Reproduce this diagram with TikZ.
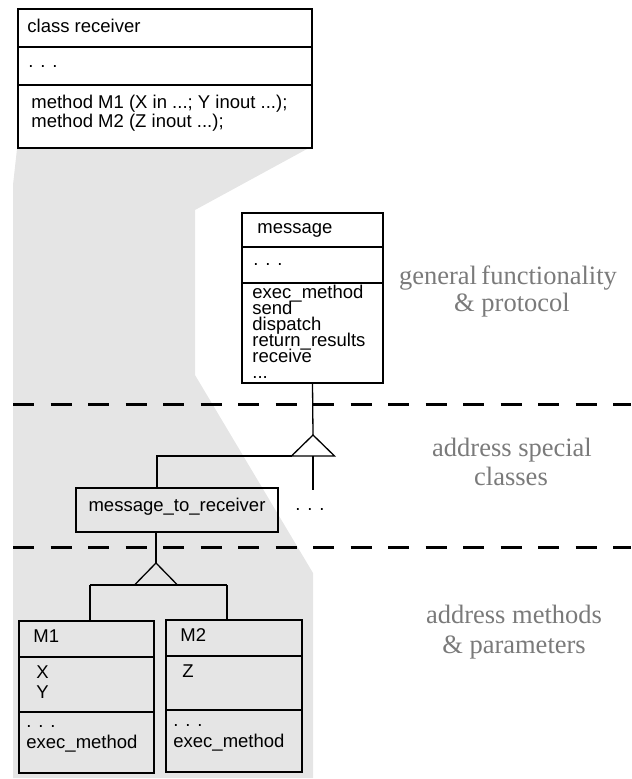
\documentclass[tikz,border=0pt]{standalone}
\usepackage{fontspec}
\setmainfont{Liberation Serif}
\newfontfamily\boxfont{Liberation Sans}
\definecolor{bgray}{HTML}{E5E5E5}
\definecolor{tgray}{HTML}{7A7A7A}
\begin{document}
\begin{tikzpicture}[x=0.5pt,y=-0.5pt,
  box/.style={draw, line width=0.65pt, inner sep=0pt, outer sep=0pt},
  txt/.style={font=\boxfont\fontsize{9.25pt}{11pt}\selectfont, anchor=base west, inner sep=0pt},
  gtxt/.style={font=\fontsize{13.25pt}{15pt}\selectfont, text=tgray, anchor=base, inner sep=0pt},
  conn/.style={line width=0.65pt},
  sepline/.style={line width=1.5pt, dash pattern=on 10.5pt off 8.25pt}]
\useasboundingbox (0,0) rectangle (631,779);
% grey background band
\fill[bgray] (17,149) -- (307,149) -- (195,210) -- (195,375) -- (313,573) -- (313,778) -- (13,778) -- (13,185) -- cycle;

% separators
\draw[sepline] (13,404) -- (631,404);
\draw[sepline] (13,547) -- (631,547);

% class receiver
\node[box, minimum width=147pt, minimum height=69.5pt] (cr) at (165,78.5) {};
\draw[conn] (18,47) -- (312,47);
\draw[conn] (18,85) -- (312,85);
\node[txt] (cr1) at (27,33) {class receiver};
\node[txt] (cr2) at (28,68) {. . .};
\node[txt] (cr3) at (31,109) {method M1 (X in ...; Y inout ...);};
\node[txt] (cr4) at (31,128) {method M2 (Z inout ...);};

% message
\node[box, minimum width=70.5pt, minimum height=85pt] (msg) at (312.5,298) {};
\draw[conn] (242,247) -- (383,247);
\draw[conn] (242,283) -- (383,283);
\node[txt] (ms1) at (257,234) {message};
\node[txt] (ms2) at (253,266) {. . .};
\node[txt] (ms3) at (252,299) {exec\_method};
\node[txt] (ms4) at (252,315) {send};
\node[txt] (ms5) at (252,331) {dispatch};
\node[txt] (ms6) at (252,347) {return\_results};
\node[txt] (ms7) at (252,363) {receive};
\node[txt] (ms8) at (252,379) {...};

% message_to_receiver
\node[box, minimum width=101pt, minimum height=22pt] (mtr) at (177,510) {};
\node[txt, anchor=base] (mtrt) at (177,511) {message\_to\_receiver};
\node[txt] (dots) at (295,510) {. . .};

% upper inheritance
\coordinate (t1) at (313,435);
\coordinate (t1l) at (291.5,456);
\coordinate (t1r) at (334.5,456);
\coordinate (t1m) at (313,456);
\coordinate (j1) at (157,456);
\coordinate (d1) at (313,490);
\draw[conn] (t1) -- (t1l) -- (t1r) -- cycle;
\draw[conn] (msg.south) -- (t1);
\draw[conn] (t1l) -- (j1) -- (j1 |- mtr.north);
\draw[conn] (t1m) -- (d1);

% M1, M2
\node[box, minimum width=67.5pt, minimum height=76pt] (m1) at (86.5,697) {};
\draw[conn] (19,657) -- (154,657);
\draw[conn] (19,712) -- (154,712);
\node[txt] (m1a) at (33,642) {M1};
\node[txt] (m1b) at (36,678) {X};
\node[txt] (m1c) at (36,698) {Y};
\node[txt] (m1d) at (26,727) {. . .};
\node[txt] (m1e) at (26,748) {exec\_method};

\node[box, minimum width=68pt, minimum height=76pt] (m2) at (234,696) {};
\draw[conn] (166,656) -- (302,656);
\draw[conn] (166,710) -- (302,710);
\node[txt] (m2a) at (180,641) {M2};
\node[txt] (m2b) at (182,677) {Z};
\node[txt] (m2d) at (173,726) {. . .};
\node[txt] (m2e) at (173,747) {exec\_method};

% lower inheritance
\coordinate (t2) at (156,563);
\coordinate (t2l) at (134.5,585);
\coordinate (t2r) at (177.5,585);
\coordinate (j2l) at (90,585);
\coordinate (j2r) at (227,585);
\draw[conn] (t2) -- (t2l) -- (t2r) -- cycle;
\draw[conn] (t2 |- mtr.south) -- (t2);
\draw[conn] (j2l) -- (j2r);
\draw[conn] (j2l) -- (j2l |- m1.north);
\draw[conn] (j2r) -- (j2r |- m2.north);

% layer labels
\node[gtxt] (g1) at (508,285) {general\,functionality};
\node[gtxt] (g2) at (512,312) {\& protocol};
\node[gtxt] (g3) at (512,456) {address special};
\node[gtxt] (g4) at (511,485) {classes};
\node[gtxt] (g5) at (514,623) {address methods};
\node[gtxt] (g6) at (514,653) {\& parameters};
\end{tikzpicture}
\end{document}
